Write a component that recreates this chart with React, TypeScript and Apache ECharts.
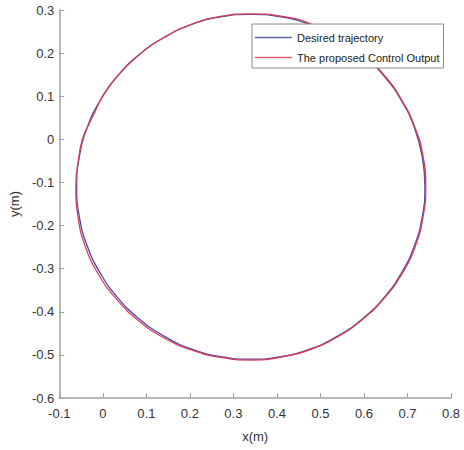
import React, { useEffect, useRef } from "react";
import * as echarts from "echarts";

const seriesNames = ["Desired trajectory", "The proposed Control Output"];

const desired: [number, number][] = [
  [0.74, -0.11], [0.734, -0.041], [0.716, 0.027], [0.686, 0.09], [0.646, 0.147],
  [0.597, 0.196], [0.54, 0.236], [0.477, 0.266], [0.409, 0.284], [0.34, 0.29],
  [0.271, 0.284], [0.203, 0.266], [0.14, 0.236], [0.083, 0.196], [0.034, 0.147],
  [-0.006, 0.09], [-0.036, 0.027], [-0.054, -0.041], [-0.06, -0.11], [-0.054, -0.179],
  [-0.036, -0.247], [-0.006, -0.31], [0.034, -0.367], [0.083, -0.416], [0.14, -0.456],
  [0.203, -0.486], [0.271, -0.504], [0.34, -0.51], [0.409, -0.504], [0.477, -0.486],
  [0.54, -0.456], [0.597, -0.416], [0.646, -0.367], [0.686, -0.31], [0.716, -0.247],
  [0.734, -0.179], [0.74, -0.11], [0.734, -0.041], [0.716, 0.027],
];

const output: [number, number][] = [
  [0.742, -0.11], [0.736, -0.04], [0.717, 0.028], [0.687, 0.091], [0.647, 0.148],
  [0.598, 0.197], [0.541, 0.237], [0.478, 0.268], [0.409, 0.286], [0.34, 0.291],
  [0.27, 0.285], [0.202, 0.266], [0.139, 0.235], [0.081, 0.194], [0.031, 0.144],
  [0.012, 0.118], [-0.004, 0.094], [-0.019, 0.062], [-0.032, 0.035], [-0.046, 0.003],
  [-0.055, -0.04], [-0.062, -0.11], [-0.057, -0.18], [-0.04, -0.249], [-0.01, -0.313],
  [0.031, -0.37], [0.08, -0.419], [0.138, -0.459], [0.202, -0.488], [0.271, -0.506],
  [0.34, -0.512], [0.41, -0.505], [0.478, -0.487], [0.541, -0.457], [0.598, -0.417],
  [0.647, -0.368], [0.688, -0.311], [0.718, -0.248], [0.736, -0.179], [0.742, -0.11],
  [0.736, -0.04], [0.717, 0.028],
];

const xLabel = "x(m)";
const yLabel = "y(m)";

export default function App() {
  const ref = useRef<HTMLDivElement>(null);
  useEffect(() => {
    document.body.style.margin = "0";
    const chart = echarts.init(ref.current!, undefined, { renderer: "svg" });
    const axisColor = "#a0a0a0";
    const font = "Liberation Sans, Arial, sans-serif";
    const lineIcon = "path://M0,0 L37,0 L37,1.4 L0,1.4 Z";
    chart.setOption({
      animation: false,
      backgroundColor: "#ffffff",
      grid: { left: 57, right: 13, top: 10, bottom: 52 },
      legend: {
        orient: "vertical",
        left: 252,
        top: 24,
        data: [
          { name: seriesNames[0], icon: lineIcon, itemStyle: { color: "#6262b0" } },
          { name: seriesNames[1], icon: lineIcon, itemStyle: { color: "#e2606f" } },
        ],
        backgroundColor: "#ffffff",
        borderColor: "#8a8a8a",
        borderWidth: 1,
        borderRadius: 0,
        padding: [8, 4, 5, 3],
        itemWidth: 37,
        itemHeight: 10,
        itemGap: 9,
        textStyle: { fontFamily: font, fontSize: 11, color: "#222" },
      },
      xAxis: {
        type: "value",
        min: -0.1,
        max: 0.8,
        interval: 0.1,
        name: xLabel,
        nameLocation: "middle",
        nameGap: 32,
        nameTextStyle: { fontFamily: font, fontSize: 13, color: "#333" },
        axisLine: { show: true, onZero: false, lineStyle: { color: axisColor, width: 1.5 } },
        axisTick: { show: true, inside: true, length: 5, lineStyle: { color: axisColor } },
        axisLabel: {
          fontFamily: font,
          fontSize: 13,
          color: "#333",
          margin: 9,
          formatter: (v: number) => String(Math.round(v * 10) / 10),
        },
        splitLine: { show: false },
      },
      yAxis: {
        type: "value",
        min: -0.6,
        max: 0.3,
        interval: 0.1,
        name: yLabel,
        nameLocation: "middle",
        nameGap: 36,
        nameTextStyle: { fontFamily: font, fontSize: 13, color: "#333" },
        axisLine: { show: true, onZero: false, lineStyle: { color: axisColor, width: 1.5 } },
        axisTick: { show: true, inside: true, length: 5, lineStyle: { color: axisColor } },
        axisLabel: {
          fontFamily: font,
          fontSize: 13,
          color: "#333",
          margin: 5,
          formatter: (v: number) => String(Math.round(v * 10) / 10),
        },
        splitLine: { show: false },
      },
      series: [
        {
          name: seriesNames[0],
          type: "line",
          data: desired,
          symbol: "none",
          smooth: 0.5,
          lineStyle: { color: "#4a4aa8", width: 1.3 },
          itemStyle: { color: "#4a4aa8" },
        },
        {
          name: seriesNames[1],
          type: "line",
          data: output,
          symbol: "none",
          smooth: 0.5,
          lineStyle: { color: "#d8405a", width: 1.3 },
          itemStyle: { color: "#d8405a" },
        },
      ],
    });
    return () => chart.dispose();
  }, []);
  return <div ref={ref} style={{ width: 464, height: 450 }} />;
}
